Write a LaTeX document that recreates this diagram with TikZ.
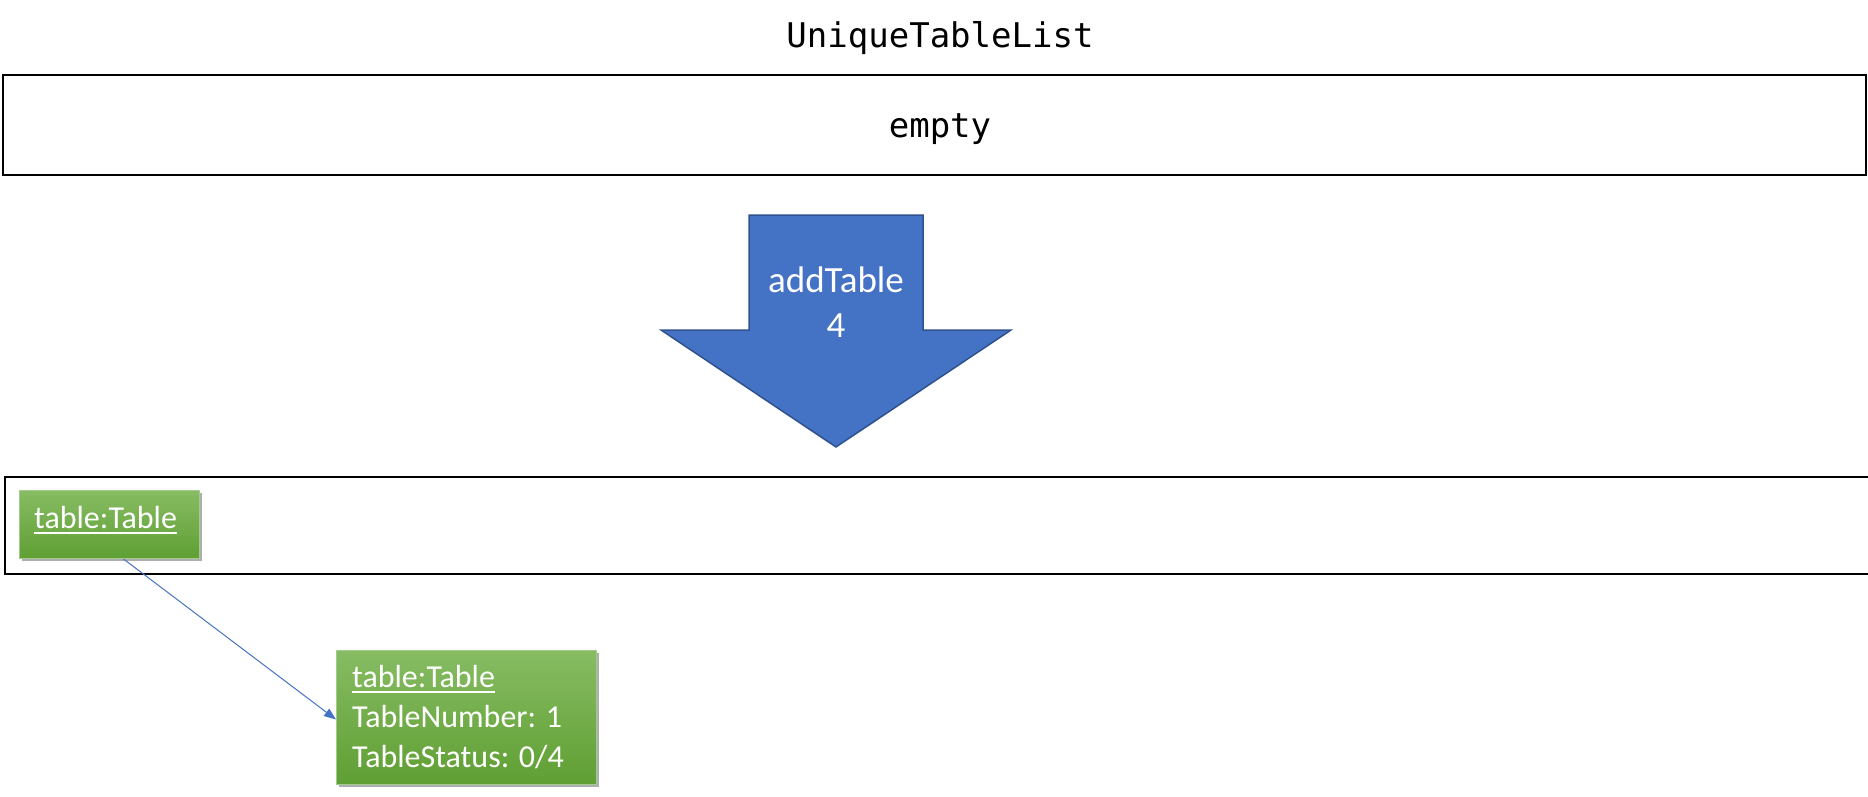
\documentclass[tikz,border=0pt]{standalone}
\usepackage{fontspec}
\setmainfont{Carlito}
\newfontfamily\codefont{DejaVu Sans Mono}
\usetikzlibrary{arrows.meta,shadows}
\definecolor{arrowblue}{HTML}{4472C4}
\definecolor{arrowedge}{HTML}{2F528F}
\definecolor{gtop}{HTML}{87BC63}
\definecolor{gbot}{HTML}{5F9F33}
\definecolor{gedge}{HTML}{A3CB8C}
\newcommand\myul[1]{\leavevmode\setbox0\hbox{#1}\rlap{\rule[-6pt]{\wd0}{2pt}}\box0}
\tikzset{
  listbox/.style={draw=black, line width=2pt, fill=none},
  codetext/.style={font=\codefont\fontsize{34}{40}\selectfont, inner sep=0pt, anchor=base},
  objbox/.style={draw=gedge, line width=1pt, top color=gtop, bottom color=gbot,
     drop shadow={shadow xshift=2.5pt, shadow yshift=-2.5pt, opacity=0.45, fill=black!70},
     inner sep=0pt, anchor=north west},
  objtext/.style={font=\fontsize{32}{40}\selectfont, text=white, inner sep=0pt, anchor=base west},
  opfont/.style={font=\fontsize{37}{45}\selectfont, text=white, inner sep=0pt, anchor=base},
  link/.style={draw=arrowblue, line width=1pt, -{Triangle[length=12pt,width=9pt]}}
}
\begin{document}
\begin{tikzpicture}[x=1pt,y=-1pt]
\useasboundingbox (0,0) rectangle (1868,797);
% title
\node[codetext] (title) at (940,48) {UniqueTableList};
% top list box
\node[listbox, minimum width=1863pt, minimum height=100pt, anchor=north west, inner sep=0pt] (list1) at (2,74) {};
\node[codetext] (empty) at (940,138) {empty};
% big down arrow
\draw[fill=arrowblue, draw=arrowedge, line width=1.5pt, line join=miter]
  (749,215) -- (923,215) -- (923,330) -- (1011,330) -- (836,447) -- (661,330) -- (749,330) -- cycle;
\node[opfont] (op1) at (836,292) {addTable};
\node[opfont] (op2) at (836,337) {4};
% second list box (runs past the right edge)
\draw[black, line width=2pt] (1872,477) -- (5,477) -- (5,574) -- (1872,574);
\coordinate (list2) at (5,477);
% object boxes
\node[objbox, minimum width=180pt, minimum height=68pt] (t1) at (19,490) {};
\node[objtext] (t1a) at (34,528) {\myul{table:Table}};
\node[objbox, minimum width=260pt, minimum height=134pt] (t2) at (336,650) {};
\node[objtext] (t2a) at (352,687) {\myul{table:Table}};
\node[objtext] (t2b) at (352,727) {TableNumber: 1};
\node[objtext] (t2c) at (352,767) {TableStatus: 0/4};
% connector
\draw[link] ([xshift=14pt]t1.south) -- ([yshift=-2pt]t2.west);
\end{tikzpicture}
\end{document}
